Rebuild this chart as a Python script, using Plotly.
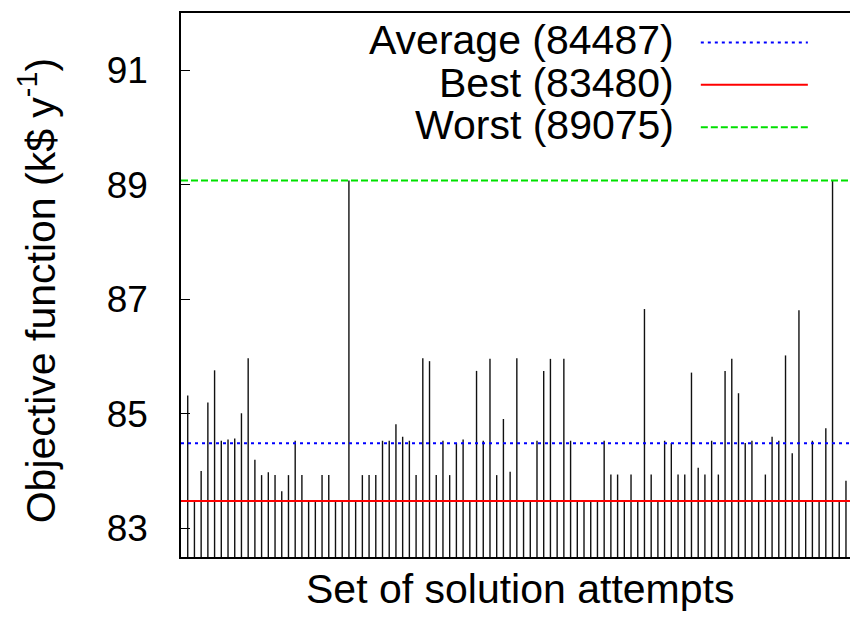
import plotly.graph_objects as go

attempt_values = [
    85.32, 83.48, 84.00, 85.20, 85.76, 84.53, 84.55, 84.57, 85.01, 85.97,
    84.20, 83.93, 83.98, 83.93, 83.65, 83.93, 84.53, 83.93, 83.48, 83.48,
    83.93, 83.93, 83.48, 83.48, 89.075, 83.48, 83.93, 83.93, 83.93, 84.53,
    84.53, 84.82, 84.60, 84.53, 83.93, 85.97, 85.92, 83.93, 84.53, 83.93,
    84.49, 84.55, 83.48, 85.75, 84.53, 85.96, 83.93, 84.91, 83.99, 85.97,
    83.48, 83.48, 84.53, 85.75, 85.96, 83.48, 85.96, 84.53, 83.48, 83.48,
    83.48, 83.48, 84.53, 83.94, 83.94, 83.48, 83.94, 83.48, 86.83, 83.94,
    83.48, 84.53, 84.49, 83.94, 83.94, 85.72, 84.06, 83.94, 84.53, 83.94,
    85.75, 85.96, 85.36, 84.49, 84.53, 83.48, 83.94, 84.60, 84.53, 86.02,
    84.31, 86.81, 83.48, 84.53, 83.48, 84.75, 89.075, 83.48, 83.83,
]
attempt_index = list(range(1, len(attempt_values) + 1))

ref_names = ["Average (84487)", "Best (83480)", "Worst (89075)"]
ref_values = [84.487, 83.480, 89.075]
ref_colors = ["#0000ff", "#ff0000", "#00e000"]
ref_dashes = ["3px,4px", "solid", "7px,3px"]
ref_widths = [2.0, 2.0, 1.8]

y_ticks = [83, 85, 87, 89, 91]
y_min, y_max = 82.5, 92.0
x_min, x_max = 0, 99.6

FONT = "Liberation Sans, Arial, Helvetica, sans-serif"
TITLE_SIZE = 41

# impulses from the bottom of the axis up to each value
xs, ys = [], []
for xi, v in zip(attempt_index, attempt_values):
    xs += [xi, xi, None]
    ys += [y_min, v, None]

fig = go.Figure()
fig.add_trace(go.Scatter(x=xs, y=ys, mode="lines",
                         line=dict(color="#111111", width=1.4),
                         showlegend=False, hoverinfo="skip"))

for name, v, c, d, w in zip(ref_names, ref_values, ref_colors, ref_dashes, ref_widths):
    fig.add_trace(go.Scatter(x=[x_min, x_max], y=[v, v], mode="lines",
                             line=dict(color=c, dash=d, width=w),
                             name=name, showlegend=False))

# gnuplot-style key: text right-aligned, sample to the right
key_y = [0.950, 0.872, 0.794]
for name, c, d, w, ky in zip(ref_names, ref_colors, ref_dashes, ref_widths, key_y):
    fig.add_annotation(x=0.738, y=ky, xref="paper", yref="paper",
                       text=name, showarrow=False, xanchor="right", yanchor="middle",
                       borderpad=0,
                       font=dict(family=FONT, size=TITLE_SIZE, color="black"))
    fig.add_shape(type="line", xref="paper", yref="paper",
                  x0=0.777, x1=0.937, y0=ky - 0.004, y1=ky - 0.004,
                  line=dict(color=c, dash=d, width=w))

fig.add_annotation(x=-0.214, y=0.49, xref="paper", yref="paper",
                   text="Objective function (k$ y<sup>-1</sup>)", textangle=-90,
                   showarrow=False, xanchor="center", yanchor="middle",
                   font=dict(family=FONT, size=TITLE_SIZE, color="black"))
fig.add_annotation(x=0.507, y=-0.058, xref="paper", yref="paper",
                   text="Set of solution attempts", showarrow=False,
                   xanchor="center", yanchor="middle",
                   font=dict(family=FONT, size=TITLE_SIZE, color="black"))

fig.update_layout(
    width=850, height=619,
    margin=dict(l=181, r=0, t=13, b=62),
    paper_bgcolor="white", plot_bgcolor="white",
    font=dict(family=FONT, color="black"),
    showlegend=False,
)
fig.update_xaxes(range=[x_min, x_max], showticklabels=False, ticks="",
                 showgrid=False, zeroline=False, showline=True,
                 linecolor="black", linewidth=1.5, mirror=True)
fig.update_yaxes(range=[y_min, y_max], tickvals=y_ticks,
                 ticktext=[str(t) for t in y_ticks],
                 ticks="inside", ticklen=9, tickwidth=1.2, tickcolor="black",
                 ticklabelstandoff=24,
                 tickfont=dict(family=FONT, size=37, color="black"),
                 showgrid=False, zeroline=False, showline=True,
                 linecolor="black", linewidth=1.5, mirror=False)

fig.write_html(
    "out.html",
    config={"displayModeBar": False},
    post_script="document.body.style.margin='0';document.body.style.overflow='hidden';",
)
